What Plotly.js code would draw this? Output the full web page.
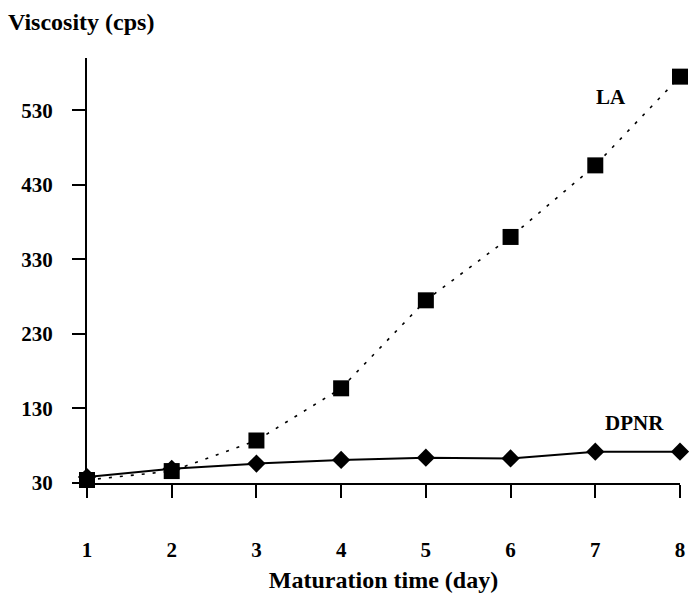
<!DOCTYPE html>
<html>
<head>
<meta charset="utf-8">
<script src="https://cdn.plot.ly/plotly-3.0.1.min.js"></script>
<style>html,body{margin:0;padding:0;background:#fff;}#chart{width:689px;height:602px;}</style>
</head>
<body>
<div id="chart"></div>
<script>
const days = [1, 2, 3, 4, 5, 6, 7, 8];
const laValues = [34, 46, 87, 157, 275, 360, 456, 575];
const dpnrValues = [38, 49, 56, 61, 64, 63, 72, 72];
const yTickValues = [30, 130, 230, 330, 430, 530];
const yTickLabels = ['30', '130', '230', '330', '430', '530'];
const xTickLabels = ['1', '2', '3', '4', '5', '6', '7', '8'];
const seriesNames = ['LA', 'DPNR'];

const fontFam = '"Liberation Serif", "Times New Roman", serif';

const traces = [
  {
    x: days, y: laValues, name: seriesNames[0], type: 'scatter', mode: 'lines+markers',
    line: {color: '#000', width: 1.6, dash: '3px,8px'},
    marker: {symbol: 'square', size: 16, color: '#000'},
    cliponaxis: false
  },
  {
    x: days, y: dpnrValues, name: seriesNames[1], type: 'scatter', mode: 'lines+markers',
    line: {color: '#000', width: 2},
    marker: {symbol: 'diamond', size: 14, color: '#000'},
    cliponaxis: false
  }
];

const layout = {
  width: 689, height: 602,
  margin: {l: 87, r: 9, t: 58, b: 119},
  paper_bgcolor: '#fff', plot_bgcolor: '#fff',
  showlegend: false,
  font: {family: fontFam, color: '#000', size: 20, weight: 'bold'},
  title: {
    text: '<b>Viscosity (cps)</b>',
    font: {family: fontFam, size: 24, color: '#000'},
    xref: 'container', yref: 'container',
    x: 8 / 689, xanchor: 'left',
    y: 1 - 22 / 602, yanchor: 'middle'
  },
  xaxis: {
    range: [1, 8],
    tickvals: days, ticktext: xTickLabels,
    ticks: 'outside', ticklen: 13, tickwidth: 2, tickcolor: '#000',
    showline: true, linecolor: '#000', linewidth: 2,
    showgrid: false, zeroline: false,
    tickfont: {family: fontFam, size: 21, color: '#000', weight: 'bold'},
    ticklabelstandoff: 34,
    title: {text: '<b>Maturation time (day)</b>', font: {family: fontFam, size: 24, color: '#000'}, standoff: 10}
  },
  yaxis: {
    range: [30, 600],
    tickvals: yTickValues, ticktext: yTickLabels,
    ticks: 'outside', ticklen: 13, tickwidth: 2, tickcolor: '#000',
    showline: true, linecolor: '#000', linewidth: 2,
    showgrid: false, zeroline: false,
    tickfont: {family: fontFam, size: 21, color: '#000', weight: 'bold'},
    ticklabelstandoff: 15
  },
  annotations: [
    {x: 7.19, y: 548, xref: 'x', yref: 'y', text: '<b>LA</b>', showarrow: false,
     font: {family: fontFam, size: 21, color: '#000'}},
    {x: 7.46, y: 110, xref: 'x', yref: 'y', text: '<b>DPNR</b>', showarrow: false,
     font: {family: fontFam, size: 21, color: '#000'}}
  ]
};

Plotly.newPlot('chart', traces, layout, {displayModeBar: false, staticPlot: true});
</script>
</body>
</html>
